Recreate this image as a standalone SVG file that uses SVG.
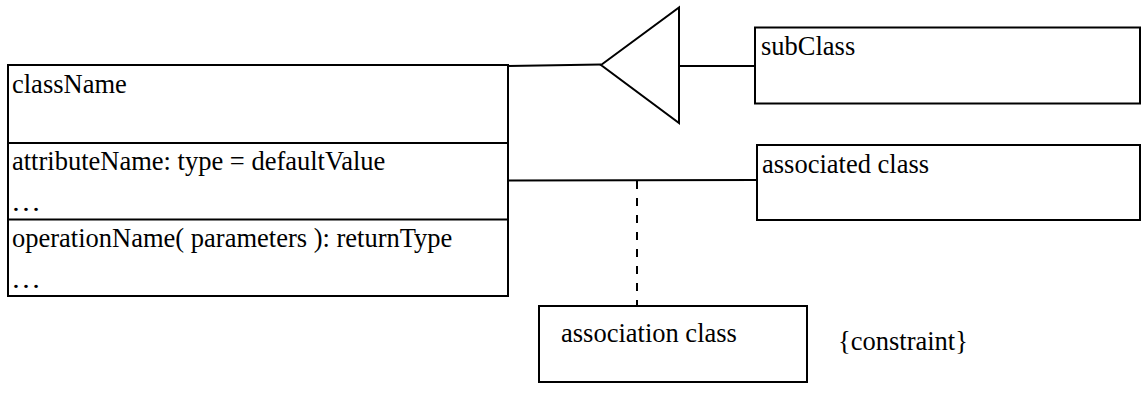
<svg xmlns="http://www.w3.org/2000/svg" width="1143" height="394" viewBox="0 0 1143 394">
<style>
.box{fill:#fff;stroke:#000;stroke-width:2}
.ln{fill:none;stroke:#000;stroke-width:2}
.dash{fill:none;stroke:#000;stroke-width:2;stroke-dasharray:8 9}
text{fill:#000}
</style>
<rect width="1143" height="394" fill="#fff"/>
<g id="connectors">
<polyline class="ln" points="508,66 601,64.5"/>
<polygon class="ln" points="601,65 679,7.5 679,123"/>
<line class="ln" x1="679" y1="66" x2="755" y2="66"/>
<line class="ln" x1="508" y1="180.5" x2="757" y2="180"/>
<line class="dash" x1="637" y1="181" x2="637" y2="306"/>
</g>
<g font-family="Liberation Serif, Times New Roman, serif" font-size="26.5">
<g id="className">
<rect class="box" x="8" y="65" width="500" height="231"/>
<line class="ln" x1="8" y1="143" x2="508" y2="143"/>
<line class="ln" x1="8" y1="219.5" x2="508" y2="219.5"/>
<text x="12" y="93">className</text>
<text x="12" y="170">attributeName: type = defaultValue</text>
<text x="11" y="211" textLength="30" lengthAdjust="spacingAndGlyphs">…</text>
<text x="12" y="247">operationName( parameters ): returnType</text>
<text x="11" y="288" textLength="30" lengthAdjust="spacingAndGlyphs">…</text>
</g>
<g id="subClass">
<rect class="box" x="755" y="27.5" width="385" height="76"/>
<text x="761" y="55">subClass</text>
</g>
<g id="associatedClass">
<rect class="box" x="757" y="145" width="383" height="75"/>
<text x="762" y="173">associated class</text>
</g>
<g id="associationClass">
<rect class="box" x="539" y="306" width="268" height="76"/>
<text x="561" y="342">association class</text>
</g>
<g id="constraint">
<text x="838" y="350">{constraint}</text>
</g>
</g>
</svg>
